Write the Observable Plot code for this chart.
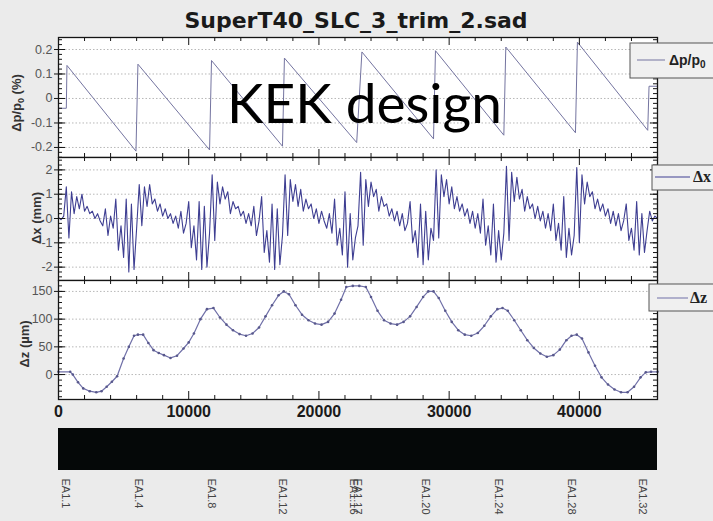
<!DOCTYPE html>
<html><head><meta charset="utf-8">
<script src="https://cdn.jsdelivr.net/npm/d3@7"></script>
<script src="https://cdn.jsdelivr.net/npm/@observablehq/plot@0.6"></script>
<style>
html,body{margin:0;padding:0;background:#ebebeb;}
#wrap{position:relative;width:713px;height:521px;overflow:hidden;background:#ebebeb;font-family:"Liberation Sans",Arial,sans-serif;}
#wrap > svg{position:absolute;left:0;}
</style></head><body><div id="wrap"></div>
<script>
// ---------- data ----------
const chartTitle = "SuperT40_SLC_3_trim_2.sad";
const annotation = "KEK design";

// Δp/p0 (%) vs s (m)
const dpS = [0, 600, 650, 5950, 6100, 11600, 11750, 17200, 17350, 22900, 23300, 28800, 28950, 34200, 34350, 39700, 39850, 45250, 45350, 46000];
const dpV = [-0.04, -0.04, 0.135, -0.215, 0.14, -0.21, 0.155, -0.195, 0.165, -0.18, 0.19, -0.165, 0.195, -0.15, 0.21, -0.14, 0.23, -0.13, 0.05, 0.05];

// Δx (mm), sampled every dxStep metres
const dxStep = 200;
const dxV = [
  0.05, -0.05, 0.1,
  1.3, -0.8, 1.1, 0.2, 0.9, 0.4, 1.0, 0.3, 0.5, 0.2, 0.3, 0.0, 0.2, -0.1, -0.3, 0.4, -0.7, 0.1, -0.4, 0.8, -1.3, -0.3, -1.6, 0.8, -2.2, 0.6, -2.1, -0.4,
  1.4, -0.3, 1.3, 0.5, 1.4, 0.6, 0.8, 0.3, 0.6, 0.1, 0.4, 0.0, 0.2, -0.2, 0.1, -0.4, 0.3, -0.6, -0.2, 0.7, -1.2, -0.3, -1.7, 0.7, -2.1, 0.5, -2.0, -0.6,
  1.8, -0.9, 1.5, 0.6, 1.3, 0.8, 1.1, 0.2, 0.7, 0.4, 0.5, 0.1, 0.3, -0.2, 0.2, -0.3, 0.5, -0.7, -0.1, 0.9, -1.4, -0.5, -1.8, 0.6, -2.1, 0.4, -1.9, -0.7,
  1.8, -0.7, 1.6, 0.7, 1.4, 0.5, 1.2, 0.3, 0.8, 0.4, 0.6, 0.0, 0.4, -0.2, 0.3, -0.1, -0.4, 0.2, -0.6, 0.8, -1.1, -0.4, -1.5, 1.1, -2.0, 0.2, -1.7, -0.8, -0.3,
  1.9, -1.1, 1.6, 0.5, 1.5, 0.9, 1.2, 0.3, 0.9, 0.5, 0.6, 0.1, 0.4, -0.1, 0.3, -0.3, 0.2, -0.5, -0.2, 0.7, -1.0, -0.5, -1.6, 0.6, -1.9, 0.3, -1.7, -0.4, -0.9,
  2.0, -0.8, 1.8, 0.9, 1.6, 0.6, 1.3, 0.4, 0.9, 0.3, 0.6, 0.1, 0.4, -0.2, 0.3, -0.4, 0.2, -0.6, 0.8, -1.1, -0.3, -1.5, 0.6, -1.8, -0.5, -1.7, -0.6,
  2.15, -0.9, 1.9, 0.7, 1.7, 0.8, 1.2, 0.3, 0.9, 0.4, 0.6, 0.0, 0.5, -0.1, 0.3, -0.4, 0.2, -0.5, 0.6, -0.9, -0.2, -1.3, 0.9, -1.6, -0.4, -1.5, -0.7,
  2.1, -1.0, 1.8, 0.6, 1.5, 0.9, 1.1, 0.4, 0.8, 0.3, 0.6, 0.1, 0.4, -0.2, 0.3, -0.3, 0.2, -0.5, -0.1, 0.6, -0.9, -0.4, -1.3, 0.7, -1.5, 0.2, -1.4, -0.5,
  0.3, -0.1, 0.1, 0.0
];

// Δz (µm) vs s (m)
const dzS = [0, 900, 1100, 1500, 1900, 2400, 2900, 3300, 3700, 4100, 4500, 5000, 5400, 5800, 6100, 6500, 6900, 7300, 7700, 8100, 8600, 9100, 9600, 10000, 10400, 10900, 11400, 11900, 12400, 12900, 13400, 13900, 14400, 14900, 15400, 15900, 16400, 16900, 17300, 17700, 18200, 18700, 19200, 19700, 20200, 20700, 21200, 21700, 22100, 22600, 23100, 23600, 24000, 24500, 25000, 25500, 26000, 26500, 27000, 27500, 28000, 28400, 28800, 29200, 29700, 30200, 30700, 31200, 31700, 32200, 32700, 33200, 33700, 34100, 34500, 35000, 35500, 36000, 36500, 37000, 37500, 38000, 38500, 39000, 39400, 39800, 40200, 40700, 41200, 41700, 42200, 42700, 43200, 43700, 44200, 44700, 45100, 45500, 46000];
const dzV = [5, 5, 0, -14, -25, -30, -32, -30, -22, -13, -3, 29, 50, 70, 72, 72, 57, 44, 39, 35, 30, 34, 47, 58, 74, 100, 118, 120, 103, 90, 80, 73, 70, 74, 85, 105, 125, 143, 150, 145, 125, 108, 98, 92, 90, 95, 110, 135, 158, 160, 160, 158, 140, 115, 98, 92, 90, 95, 105, 122, 140, 150, 150, 138, 115, 95, 80, 72, 70, 75, 88, 105, 118, 120, 115, 98, 80, 62, 48, 38, 32, 35, 45, 62, 70, 72, 65, 40, 16, -5, -18, -27, -32, -32, -22, -5, 4, 5, 5];

// axis ticks
const xTicks = [0, 10000, 20000, 30000, 40000];
const dpTicks = [-0.2, -0.1, 0, 0.1, 0.2];
const dxTicks = [-2, -1, 0, 1, 2];
const dzTicks = [0, 50, 100, 150];

// element labels under the bar
const elemNames = ["EA1.1", "EA1.4", "EA1.8", "EA1.12", "EA1.16", "EA1.17", "EA1.20", "EA1.24", "EA1.28", "EA1.32"];
const elemS = [300, 5900, 11450, 16900, 22400, 22700, 27950, 33500, 39100, 44550];

// ---------- layout ----------
const W = 713, ML = 58, MR = 56, XDOM = [0, 46000];
const iw = W - ML - MR;
const wrap = document.getElementById("wrap");
const frameCol = "#151515";

function panel({top, bottom, yDomain, yTicks, yMinor, marks, showX}) {
  const mt = 12, mb = showX ? 30 : 12;
  const ih = bottom - top;
  const minX = d3.range(2000, 46000, 2000).filter(v => v % 10000 !== 0);
  const p = Plot.plot({
    width: W, height: ih + mt + mb,
    marginLeft: ML, marginRight: MR, marginTop: mt, marginBottom: mb,
    style: {background: "transparent", overflow: "visible", fontFamily: "'Liberation Sans', Arial, sans-serif"},
    x: {domain: XDOM, axis: null, label: null},
    y: {domain: yDomain, axis: null, label: null},
    marks: [
      Plot.frame({fill: "white"}),
      Plot.ruleY(yTicks, {stroke: "#b8b8b8", strokeDasharray: "1.5,2"}),
      ...marks,
      Plot.ruleX(xTicks, {insetBottom: ih - 8, stroke: frameCol}),
      Plot.ruleX(xTicks, {insetTop: ih - 8, stroke: frameCol}),
      Plot.ruleX(minX, {insetBottom: ih - 4, stroke: frameCol}),
      Plot.ruleX(minX, {insetTop: ih - 4, stroke: frameCol}),
      Plot.ruleY(yMinor, {insetRight: iw - 4, stroke: frameCol}),
      Plot.ruleY(yMinor, {insetLeft: iw - 4, stroke: frameCol}),
      Plot.ruleY(yTicks, {insetRight: iw - 7, insetLeft: -4, stroke: frameCol}),
      Plot.ruleY(yTicks, {insetLeft: iw - 7, stroke: frameCol}),
      Plot.frame({stroke: frameCol, strokeWidth: 1.3}),
      Plot.axisY(yTicks, {label: null, tickSize: 0, tickPadding: 6, fontSize: 12.5, fill: "#555", tickFormat: d => String(d)}),
      ...(showX ? [Plot.axisX(xTicks, {label: null, tickSize: 0, tickPadding: 6, fontSize: 16, fontWeight: "bold", fill: "#1a1a1a", tickFormat: d => String(d)})] : [])
    ]
  });
  p.style.top = (top - mt) + "px";
  wrap.appendChild(p);
}

const dpData = dpS.map((s, i) => ({s, v: dpV[i]}));
const dxData = dxV.map((v, i) => ({s: i * dxStep, v}));
const dzData = dzS.map((s, i) => ({s, v: dzV[i]}));

panel({top: 37, bottom: 157, yDomain: [-0.241, 0.249], yTicks: dpTicks,
  yMinor: d3.range(-0.24, 0.25, 0.02).map(v => +v.toFixed(2)),
  marks: [Plot.line(dpData, {x: "s", y: "v", stroke: "#7474a0", strokeWidth: 1})]});

panel({top: 157, bottom: 280, yDomain: [-2.55, 2.51], yTicks: dxTicks,
  yMinor: d3.range(-2.4, 2.5, 0.2).map(v => +v.toFixed(1)),
  marks: [Plot.line(dxData, {x: "s", y: "v", stroke: "#3e3e92", strokeWidth: 1.1})]});

panel({top: 280, bottom: 399, yDomain: [-45, 169.7], yTicks: dzTicks,
  yMinor: d3.range(-40, 170, 10), showX: true,
  marks: [Plot.line(dzData, {x: "s", y: "v", stroke: "#7070a8", strokeWidth: 1.2}),
          Plot.dot(dzData, {x: "s", y: "v", r: 1.3, fill: "#58588c"})]});

// black bar + element labels
const bar = Plot.plot({
  width: W, height: 101, marginLeft: ML, marginRight: MR, marginTop: 8, marginBottom: 51,
  style: {background: "transparent", overflow: "visible", fontFamily: "'Liberation Sans', Arial, sans-serif"},
  x: {domain: XDOM, axis: null, label: null},
  marks: [
    Plot.rect([{a: XDOM[0], b: XDOM[1]}], {x1: "a", x2: "b", fill: "#050808"}),
    Plot.text(elemNames.map((n, i) => ({n, s: elemS[i]})), {x: "s", text: "n", frameAnchor: "bottom", rotate: 90, textAnchor: "start", dy: 8, fontSize: 11, fill: "#444", style: "letter-spacing:1px"})
  ]
});
bar.style.top = "420px";
wrap.appendChild(bar);

// overlay texts and legends
const ov = d3.create("svg").attr("width", W).attr("height", 521).style("top", "0px").style("overflow", "visible");
ov.append("text").attr("x", 356).attr("y", 28).attr("text-anchor", "middle")
  .attr("font-family", "'DejaVu Sans', sans-serif").attr("font-weight", "bold").attr("font-size", 22).attr("fill", "#1a1a1a").text(chartTitle);
ov.append("text").attr("x", 227).attr("y", 123)
  .attr("font-family", "Lato, sans-serif").attr("font-size", 55).attr("fill", "#000").text(annotation);

function ylab(x, y, parts) {
  const t = ov.append("text").attr("transform", `translate(${x},${y}) rotate(-90)`).attr("text-anchor", "middle")
    .attr("font-family", "'Liberation Sans', Arial, sans-serif").attr("font-weight", "bold").attr("font-size", 13).attr("fill", "#333");
  parts.forEach(([txt, sub], i) => {
    const s = t.append("tspan").text(txt);
    if (sub) s.attr("font-size", 9).attr("dy", 3); else if (i > 0) s.attr("dy", -3);
  });
}
ylab(21, 103, [["Δp/p"], ["0", true], [" (%)"]]);
ylab(41, 218, [["Δx (mm)"]]);
ylab(29, 344, [["Δz (µm)"]]);

function legend(x, y, w, h, lx1, lx2, ly, col, tx, parts, fam, fs) {
  ov.append("rect").attr("x", x).attr("y", y).attr("width", w).attr("height", h).attr("fill", "#f0f0f0").attr("stroke", "#555");
  ov.append("line").attr("x1", lx1).attr("x2", lx2).attr("y1", ly).attr("y2", ly).attr("stroke", col);
  const t = ov.append("text").attr("x", tx).attr("y", ly + 5).attr("font-family", fam).attr("font-size", fs).attr("font-weight", "bold").attr("fill", "#222");
  parts.forEach(([txt, sub]) => {
    const s = t.append("tspan").text(txt);
    if (sub) s.attr("font-size", 10).attr("dy", 3);
  });
}
legend(630, 43, 100, 35, 637, 665, 60, "#7474a0", 669, [["Δp/p"], ["0", true]], "'Liberation Sans', Arial, sans-serif", 14);
legend(652, 165, 80, 25, 655, 690, 177, "#3e3e92", 693, [["Δx"]], "'Liberation Serif', serif", 16);
legend(649, 284, 80, 27, 657, 688, 298, "#7070a8", 690, [["Δz"]], "'Liberation Serif', serif", 16);
wrap.appendChild(ov.node());
</script>
</body></html>
